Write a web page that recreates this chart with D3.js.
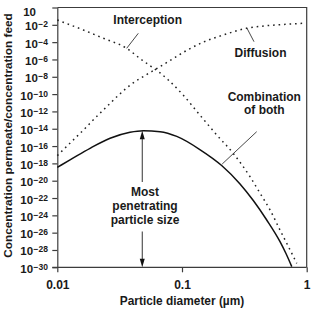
<!DOCTYPE html>
<html>
<head>
<meta charset="utf-8">
<script src="https://cdn.jsdelivr.net/npm/d3@7"></script>
<style>
  html, body { margin: 0; padding: 0; background: #fff; }
  svg { display: block; }
  text { font-family: "Liberation Sans", Arial, Helvetica, sans-serif; fill: #1a1a1a; }
</style>
</head>
<body>
<svg id="chart" width="315" height="309"></svg>
<script>
// ---------- data ----------
// Particle diameter (µm) and concentration ratio (permeate / feed)
const interceptionD = [0.0100, 0.0162, 0.0234, 0.0361, 0.0460, 0.0571, 0.0667, 0.0776, 0.102, 0.139, 0.190, 0.258, 0.351, 0.423, 0.508, 0.611, 0.736, 0.832];
const interceptionC = [3.6e-2, 2.5e-3, 2.8e-4, 1.9e-5, 1.3e-6, 1.4e-7, 2.8e-8, 4.3e-9, 7.9e-11, 3.9e-13, 1.9e-15, 1.4e-17, 2.9e-20, 3.5e-22, 4.2e-24, 2.0e-26, 1.0e-28, 2.9e-30];

const diffusionD = [0.0100, 0.0130, 0.0162, 0.0200, 0.0249, 0.0308, 0.0395, 0.0505, 0.0630, 0.0802, 0.109, 0.148, 0.214, 0.330, 0.478, 0.649, 0.940];
const diffusionC = [7.9e-18, 3.2e-16, 7.1e-15, 1.6e-13, 3.5e-12, 6.9e-11, 1.5e-9, 1.4e-8, 9.1e-8, 7.6e-7, 1.1e-5, 1.0e-4, 6.6e-4, 4.0e-3, 7.9e-3, 1.1e-2, 1.5e-2];

const combinedD = [0.0100, 0.01265, 0.0183, 0.0265, 0.0383, 0.0490, 0.0667, 0.0908, 0.139, 0.208, 0.292, 0.373, 0.478, 0.611, 0.682, 0.759];
const combinedC = [3.5e-19, 2.5e-18, 5.5e-17, 7.9e-16, 3.9e-15, 5.9e-15, 4.6e-15, 1.3e-15, 4.0e-17, 5.7e-19, 4.2e-21, 5.1e-23, 2.9e-25, 9.1e-28, 3.9e-29, 1.2e-30];

const mppsD = 0.048;      // most penetrating particle size
const mppsC = 5.9e-15;

const xTickValues = [0.01, 0.1, 1];
const xTickLabels = ["0.01", "0.1", "1"];
const yTickValues = [1, 1e-2, 1e-4, 1e-6, 1e-8, 1e-10, 1e-12, 1e-14, 1e-16, 1e-18, 1e-20, 1e-22, 1e-24, 1e-26, 1e-28, 1e-30];
const yTickBase = "10";
const yTickExp = ["", "−2", "−4", "−6", "−8", "−10", "−12", "−14", "−16", "−18", "−20", "−22", "−24", "−26", "−28", "−30"];

const xTitle = "Particle diameter (µm)";
const yTitle = "Concentration permeate/concentration feed";

// ---------- layout ----------
const L = 57.3, R = 306.7, T = 7.5, B = 267.3;
const axisColor = "#3c3c3c";

const svg = d3.select("#chart");
const x = d3.scaleLog().domain([0.01, 1]).range([L, R]);
const y = d3.scaleLog().domain([1e-30, 1]).range([B, T]);

// frame (top, right)
svg.append("path")
  .attr("d", `M${L},${T}H${R}V${B}`)
  .attr("fill", "none").attr("stroke", axisColor).attr("stroke-width", 1.2);

// y axis
const yAxisG = svg.append("g").attr("transform", `translate(${L},0)`)
  .call(d3.axisLeft(y).tickValues(yTickValues).tickSize(5).tickSizeOuter(0).tickFormat(""));
yAxisG.select(".domain").attr("stroke", axisColor).attr("stroke-width", 1.2);
yAxisG.selectAll(".tick line").attr("stroke", axisColor).attr("stroke-width", 1.2);
yAxisG.selectAll(".tick text").each(function(d, i) {
  const t = d3.select(this).text(null)
    .attr("font-family", null).attr("font-size", 11.5).attr("font-weight", "bold")
    .attr("fill", "#1a1a1a").attr("dy", null);
  if (yTickExp[i] === "") {
    t.attr("x", -21.3).attr("y", 7.5).attr("text-anchor", "end").text(yTickBase);
  } else {
    t.attr("x", -9.3).attr("y", 5).attr("text-anchor", "end");
    t.append("tspan").text(yTickBase);
    t.append("tspan").attr("dy", -3).attr("dx", 0.5).attr("font-size", 8.5).text(yTickExp[i]);
  }
});

// x axis
const xAxisG = svg.append("g").attr("transform", `translate(0,${B})`)
  .call(d3.axisBottom(x).tickValues(xTickValues).tickSize(5).tickPadding(8).tickSizeOuter(0)
        .tickFormat((d, i) => xTickLabels[i]));
xAxisG.select(".domain").attr("stroke", axisColor).attr("stroke-width", 1.2)
  .attr("d", `M${L - 5},0H${R}`);
xAxisG.selectAll(".tick line").attr("stroke", axisColor).attr("stroke-width", 1.2);
xAxisG.selectAll(".tick text").attr("font-family", null).attr("font-size", 12)
  .attr("font-weight", "bold").attr("fill", "#1a1a1a");

// axis titles
svg.append("text").attr("x", (L + R) / 2).attr("y", 305.3).attr("text-anchor", "middle")
  .attr("font-size", 11.9).attr("font-weight", "bold").text(xTitle);
svg.append("text").attr("transform", "translate(11.6,135.5) rotate(-90)").attr("text-anchor", "middle")
  .attr("font-size", 11.8).attr("font-weight", "bold").text(yTitle);

// curves
const line = d3.line().x(d => x(d[0])).y(d => y(d[1])).curve(d3.curveMonotoneX);
const zip = (a, b) => a.map((v, i) => [v, b[i]]);

svg.append("path").datum(zip(interceptionD, interceptionC))
  .attr("d", line).attr("fill", "none").attr("stroke", "#222")
  .attr("stroke-width", 1.5).attr("stroke-dasharray", "1.6,3.9");
svg.append("path").datum(zip(diffusionD, diffusionC))
  .attr("d", line).attr("fill", "none").attr("stroke", "#222")
  .attr("stroke-width", 1.5).attr("stroke-dasharray", "1.6,3.9");
svg.append("path").datum(zip(combinedD, combinedC))
  .attr("d", line).attr("fill", "none").attr("stroke", "#111")
  .attr("stroke-width", 1.5);

// leader lines
const leaders = [
  [126.7, 48.3, 138.3, 33.3],
  [246.7, 27.7, 254, 41.7],
  [256.7, 131.7, 222.2, 164]
];
svg.selectAll(".leader").data(leaders).join("line").attr("class", "leader")
  .attr("x1", d => d[0]).attr("y1", d => d[1]).attr("x2", d => d[2]).attr("y2", d => d[3])
  .attr("stroke", "#333").attr("stroke-width", 0.9);

// annotation labels
function label(lines, cx, y0, lh) {
  const t = svg.append("text").attr("text-anchor", "middle").attr("font-size", 12).attr("font-weight", "bold");
  lines.forEach((s, i) => t.append("tspan").attr("x", cx).attr("y", y0 + i * lh).text(s));
}
label(["Interception"], 147.7, 23.5, 0);
label(["Diffusion"], 260.5, 56.7, 0);
label(["Combination", "of both"], 264.3, 100.7, 13.3);
label(["Most", "penetrating", "particle size"], 145, 196, 13.8);

// most penetrating size arrows
const ax = x(mppsD);
const yPeak = y(mppsC);
const yBot = y(1e-30);
svg.append("line").attr("x1", ax).attr("x2", ax).attr("y1", yPeak + 6).attr("y2", 182)
  .attr("stroke", "#333").attr("stroke-width", 1);
svg.append("path").attr("d", `M${ax},${yPeak}L${ax - 2.5},${yPeak + 8.5}L${ax + 2.5},${yPeak + 8.5}Z`).attr("fill", "#111");
svg.append("line").attr("x1", ax).attr("x2", ax).attr("y1", 231.5).attr("y2", yBot - 6)
  .attr("stroke", "#333").attr("stroke-width", 1);
svg.append("path").attr("d", `M${ax},${yBot}L${ax - 2.5},${yBot - 8.5}L${ax + 2.5},${yBot - 8.5}Z`).attr("fill", "#111");
</script>
</body>
</html>
